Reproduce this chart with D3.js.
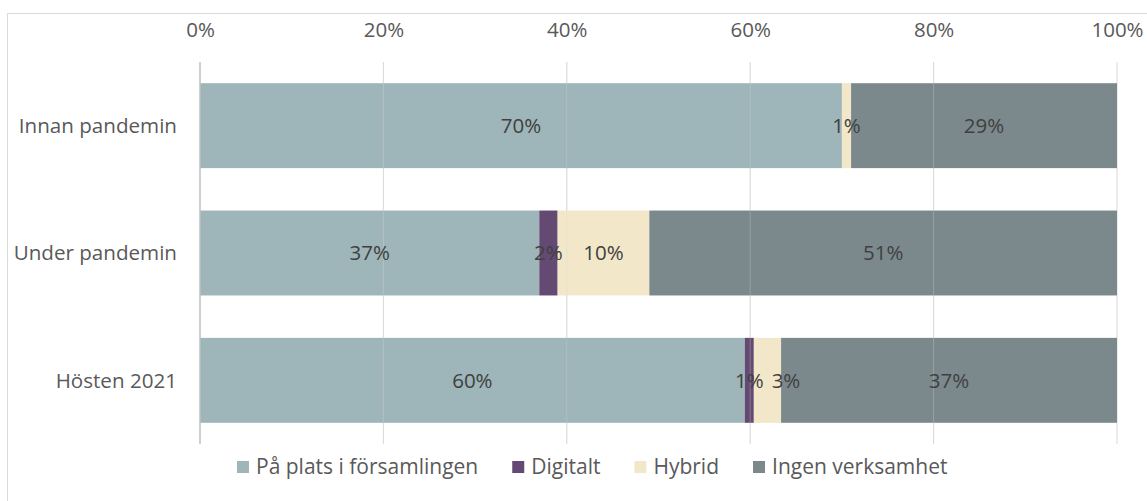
<!DOCTYPE html>
<html>
<head>
<meta charset="utf-8">
<script src="https://cdn.jsdelivr.net/npm/d3@7"></script>
<style>
  body { margin: 0; background: #fff; }
  text { font-family: "Open Sans", sans-serif; }
</style>
</head>
<body>
<div id="chart"></div>
<script>
// Data
const categories = ["Innan pandemin", "Under pandemin", "Hösten 2021"];
const seriesNames = ["På plats i församlingen", "Digitalt", "Hybrid", "Ingen verksamhet"];
const paPlats = [70, 37, 60];
const digitalt = [0, 2, 1];
const hybrid = [1, 10, 3];
const ingen = [29, 51, 37];
const tickValues = [0, 0.2, 0.4, 0.6, 0.8, 1];
const colors = ["#9eb5b9", "#644a72", "#f2e7c9", "#7b898d"];

const seriesValues = [paPlats, digitalt, hybrid, ingen];
const rows = categories.map((c, i) => {
    const r = { cat: c };
    seriesNames.forEach((s, j) => r[s] = seriesValues[j][i]);
    return r;
});

const width = 1147, height = 501;
const svg = d3.select("#chart").append("svg")
    .attr("width", width)
    .attr("height", height);

// chart frame
svg.append("rect")
    .attr("x", 7.5).attr("y", 13.5)
    .attr("width", 1160).attr("height", 500)
    .attr("fill", "none")
    .attr("stroke", "#d9d9d9");

const x = d3.scaleLinear().domain([0, 1]).range([200, 1117]);
const y = d3.scaleBand().domain(categories).range([62, 444]).paddingInner(0.333).paddingOuter(0.1665);

// gridlines
svg.append("g")
    .selectAll("line")
    .data(tickValues.slice(1))
    .enter().append("line")
    .attr("x1", d => x(d)).attr("x2", d => x(d))
    .attr("y1", 62).attr("y2", 444)
    .attr("stroke", "#d9d9d9");

// top axis labels
const xAxis = svg.append("g")
    .attr("transform", "translate(0,39)")
    .call(d3.axisTop(x).tickValues(tickValues).tickFormat(d3.format(".0%")).tickSize(0).tickPadding(0));
xAxis.select(".domain").remove();
xAxis.selectAll("text")
    .attr("font-size", 20.5)
    .attr("fill", "#595959")
    .attr("dy", "-0.1em")
    .style("font-family", "'Open Sans', sans-serif");

// stacked bars
const stack = d3.stack().keys(seriesNames).offset(d3.stackOffsetExpand);
const layers = stack(rows);

const layerG = svg.append("g").selectAll("g")
    .data(layers)
    .enter().append("g")
    .attr("fill", (d, i) => colors[i]);

layerG.selectAll("rect")
    .data(d => d)
    .enter().append("rect")
    .attr("x", d => x(d[0]))
    .attr("y", d => y(d.data.cat))
    .attr("width", d => x(d[1]) - x(d[0]))
    .attr("height", y.bandwidth());

// gridlines faintly visible through bars
svg.append("g")
    .selectAll("line")
    .data(tickValues.slice(1, -1))
    .enter().append("line")
    .attr("x1", d => x(d)).attr("x2", d => x(d))
    .attr("y1", 62).attr("y2", 444)
    .attr("stroke", "#d9d9d9")
    .attr("stroke-opacity", 0.3);

// left axis line
svg.append("line")
    .attr("x1", x(0)).attr("x2", x(0))
    .attr("y1", 62).attr("y2", 444)
    .attr("stroke", "#bfbfbf")
    .attr("stroke-width", 1.5);

// category labels
svg.append("g").selectAll("text")
    .data(categories)
    .enter().append("text")
    .attr("x", 177)
    .attr("y", d => y(d) + y.bandwidth() / 2)
    .attr("dy", "0.35em")
    .attr("text-anchor", "end")
    .attr("font-size", 20.6)
    .attr("fill", "#595959")
    .text(d => d);

// data labels
const labelG = svg.append("g");
categories.forEach((cat, ci) => {
    const items = [];
    layers.forEach((layer, li) => {
        const seg = layer[ci];
        const v = seriesValues[li][ci];
        if (v <= 0) return;
        const t = labelG.append("text")
            .attr("y", y(cat) + y.bandwidth() / 2)
            .attr("dy", "0.35em")
            .attr("text-anchor", "middle")
            .attr("font-size", 20.5)
            .attr("fill", "#404040")
            .text(v + "%");
        items.push({ t, cx: (x(seg[0]) + x(seg[1])) / 2, w: t.node().getComputedTextLength() });
    });
    // push overlapping labels to the right
    for (let i = 1; i < items.length; i++) {
        const prevRight = items[i - 1].cx + items[i - 1].w / 2;
        const left = items[i].cx - items[i].w / 2;
        if (left < prevRight + 8) items[i].cx += prevRight + 8 - left;
    }
    items.forEach(d => d.t.attr("x", d.cx));
});

// legend
const legend = svg.append("g").attr("transform", "translate(237,467)");
let lx = 0;
seriesNames.forEach((s, i) => {
    const g = legend.append("g").attr("transform", `translate(${lx},0)`);
    g.append("rect")
        .attr("x", 0).attr("y", -6)
        .attr("width", 12).attr("height", 12)
        .attr("fill", colors[i]);
    const t = g.append("text")
        .attr("x", 19).attr("y", 0)
        .attr("dy", "0.35em")
        .attr("font-size", 21)
        .attr("fill", "#595959")
        .text(s);
    lx += 19 + t.node().getComputedTextLength() + 34;
});
</script>
</body>
</html>
